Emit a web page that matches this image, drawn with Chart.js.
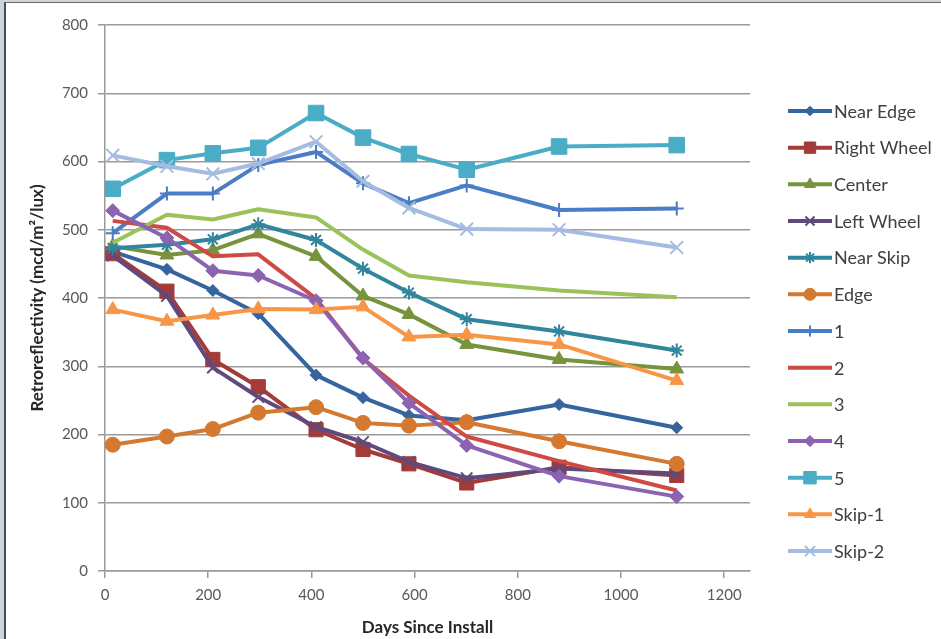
<!DOCTYPE html>
<html>
<head>
<meta charset="utf-8">
<script src="https://cdn.jsdelivr.net/npm/chart.js@4"></script>
<style>
  html, body { margin: 0; padding: 0; background: #c9d4dd; width: 941px; height: 639px; overflow: hidden; }
  #frame { position: absolute; left: 4px; top: 2px; width: 935px; height: 636px; background: #fff;
           border-left: 2px solid #4d4d4d; border-top: 1px solid #6b6b6b; }
  canvas { display: block; }
</style>
</head>
<body>
<div id="frame"><canvas id="chart" width="935" height="636"></canvas></div>
<script>
// days since install (shared by every series)
const days = [15, 120, 209, 297, 409, 500, 589, 701, 880, 1108];

// retroreflectivity readings, mcd/m2/lux
const nearEdge   = [468, 442, 411, 377, 287, 254, 228, 221, 244, 210];
const rightWheel = [465, 410, 310, 270, 207, 178, 157, 129, 152, 140];
const center     = [476, 463, 470, 494, 461, 403, 376, 332, 310, 296];
const leftWheel  = [462, 403, 298, 255, 211, 189, 160, 136, 150, 143];
const nearSkip   = [473, 478, 486, 508, 485, 443, 408, 369, 351, 323];
const edge       = [185, 197, 208, 232, 240, 217, 213, 218, 190, 157];
const s1         = [495, 553, 553, 595, 614, 568, 539, 565, 529, 531];
const s2         = [513, 503, 461, 464, 399, 311, 257, 197, 161, 118];
const s3         = [481, 522, 515, 530, 518, 471, 433, 423, 411, 401];
const s4         = [528, 488, 440, 433, 396, 312, 246, 184, 139, 109];
const s5         = [560, 602, 612, 620, 671, 635, 611, 588, 622, 624];
const skip1      = [383, 366, 375, 384, 383, 387, 343, 346, 332, 279];
const skip2      = [609, 593, 582, 597, 629, 571, 532, 501, 500, 474];

const xTicks = [0, 200, 400, 600, 800, 1000, 1200];

// label, values, colour, marker, marker radius
const series = [
  ['Near Edge',   nearEdge,   '#36649e', 'rectRot',  6],
  ['Right Wheel', rightWheel, '#a33b39', 'rect',     10],
  ['Center',      center,     '#77933c', 'triangle', 8],
  ['Left Wheel',  leftWheel,  '#604a7b', 'crossRot', 8],
  ['Near Skip',   nearSkip,   '#31859c', 'star',     7],
  ['Edge',        edge,       '#d4792f', 'circle',   7.5],
  ['1',           s1,         '#4a7dc4', 'cross',    7],
  ['2',           s2,         '#cf4a45', false,      0],
  ['3',           s3,         '#9bc15a', false,      0],
  ['4',           s4,         '#8b63b0', 'rectRot',  7],
  ['5',           s5,         '#4bacc6', 'rect',     11],
  ['Skip-1',      skip1,      '#f79646', 'triangle', 8],
  ['Skip-2',      skip2,      '#a5bce0', 'crossRot', 9]
];

const lineMarks = ['cross', 'crossRot', 'star'];

const datasets = series.map(([label, vals, color, style, r], i) => ({
  label: label,
  data: days.map((d, k) => ({ x: d, y: vals[k] })),
  borderColor: color,
  backgroundColor: color,
  borderWidth: 4,
  borderJoinStyle: 'round',
  tension: 0,
  pointStyle: style || 'circle',
  pointRadius: r,
  pointHoverRadius: r,
  pointBackgroundColor: color,
  pointBorderColor: color,
  pointBorderWidth: lineMarks.includes(style) ? 2 : 1,
  order: -i // later series drawn on top, like the original
}));

// legend drawn beside the plot: line with marker, then label
const sideLegend = {
  id: 'sideLegend',
  afterDraw(chart) {
    const ctx = chart.ctx;
    chart.data.datasets.forEach((ds, i) => {
      const y = 108 + i * 36.67;
      ctx.save();
      ctx.strokeStyle = ds.borderColor;
      ctx.lineWidth = 4;
      ctx.beginPath();
      ctx.moveTo(782, y);
      ctx.lineTo(826, y);
      ctx.stroke();
      if (ds.pointRadius > 0 && Chart.helpers && Chart.helpers.drawPoint) {
        ctx.fillStyle = ds.pointBackgroundColor;
        ctx.strokeStyle = ds.pointBorderColor;
        ctx.lineWidth = ds.pointBorderWidth;
        Chart.helpers.drawPoint(ctx, {
          pointStyle: ds.pointStyle,
          rotation: 0,
          radius: ds.pointRadius * 0.8,
          borderWidth: ds.pointBorderWidth
        }, 804, y);
      }
      ctx.fillStyle = '#404040';
      ctx.font = '18px Lato';
      ctx.textBaseline = 'middle';
      ctx.textAlign = 'left';
      ctx.fillText(ds.label, 828, y + 1);
      ctx.restore();
    });
  }
};

const ctx = document.getElementById('chart').getContext('2d');
new Chart(ctx, {
  type: 'line',
  data: { datasets: datasets },
  plugins: [sideLegend],
  options: {
    responsive: false,
    animation: false,
    layout: { padding: { top: 22, right: 191, left: 0, bottom: 0 } },
    plugins: {
      legend: { display: false },
      tooltip: { enabled: false }
    },
    scales: {
      x: {
        type: 'linear',
        min: 0,
        max: 1250,
        afterBuildTicks: (scale) => {
          scale.ticks = xTicks.map(v => ({ value: v }));
        },
        afterFit: (scale) => { scale.height = 68; },
        grid: {
          drawOnChartArea: false,
          drawTicks: true,
          tickLength: 7,
          tickColor: '#9a9a9a',
          lineWidth: 1.5
        },
        border: { display: true, color: '#9a9a9a', width: 1.5 },
        ticks: {
          padding: 8,
          color: '#595959',
          font: { family: 'Lato', size: 15 },
          maxRotation: 0,
          callback: (v) => String(v)
        },
        title: {
          display: true,
          text: 'Days Since Install',
          color: '#262626',
          font: { family: 'Lato', size: 17, weight: 'bold' },
          padding: { top: 0, bottom: 1 }
        }
      },
      y: {
        min: 0,
        max: 800,
        ticks: {
          stepSize: 100,
          padding: 10,
          color: '#595959',
          font: { family: 'Lato', size: 15 }
        },
        afterFit: (scale) => { scale.width = 99; },
        grid: {
          color: '#9a9a9a',
          lineWidth: 1.5,
          tickLength: 7
        },
        border: { display: true, color: '#9a9a9a', width: 1.5 },
        title: {
          display: true,
          text: 'Retroreflectivity (mcd/m\u00b2/lux)',
          color: '#262626',
          font: { family: 'Lato', size: 17, weight: 'bold' },
          padding: { top: 21, bottom: 0 }
        }
      }
    }
  }
});
</script>
</body>
</html>
